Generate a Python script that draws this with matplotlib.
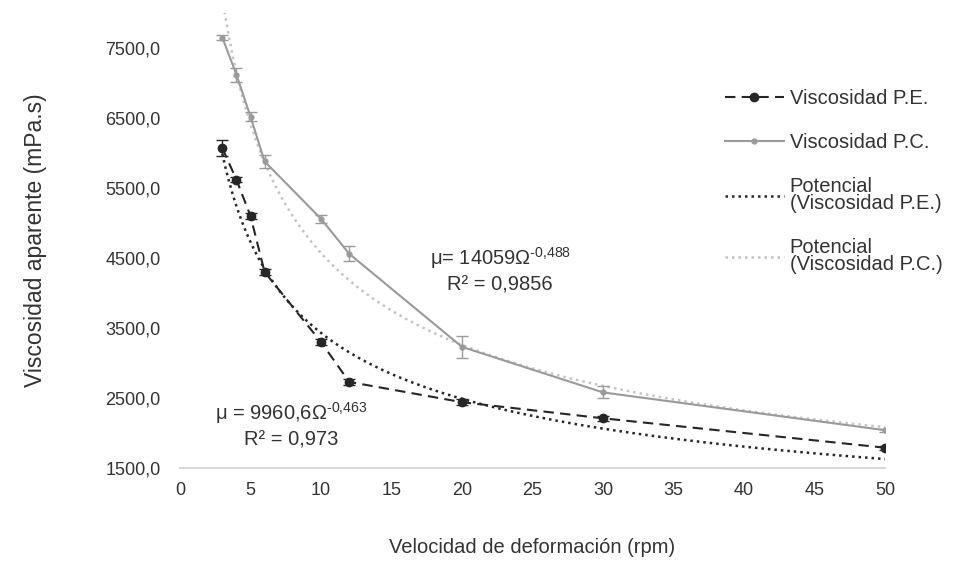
import numpy as np
import matplotlib
matplotlib.use("Agg")
import matplotlib.pyplot as plt
from matplotlib.ticker import FuncFormatter

plt.rcParams['font.family'] = ['Liberation Sans', 'DejaVu Sans']
plt.rcParams['mathtext.fontset'] = 'custom'
plt.rcParams['mathtext.rm'] = 'Liberation Sans'
plt.rcParams['mathtext.it'] = 'Liberation Sans'

# ---- data ----
rpm = [3, 4, 5, 6, 10, 12, 20, 30, 50]
visc_pe = [6070, 5620, 5100, 4300, 3300, 2730, 2440, 2210, 1790]
err_pe = [110, 40, 40, 40, 40, 40, 40, 40, 30]
visc_pc = [7650, 7120, 6520, 5880, 5060, 4560, 3230, 2580, 2040]
err_pc = [40, 100, 70, 90, 60, 105, 157, 85, 20]
fit_pe = [9960.6, -0.463]   # mu = a * rpm^b
fit_pc = [14059.0, -0.488]
y_ticks = [1500, 2500, 3500, 4500, 5500, 6500, 7500]
x_ticks = [0, 5, 10, 15, 20, 25, 30, 35, 40, 45, 50]

fig = plt.figure(figsize=(9.59, 5.64), dpi=100)
ax = fig.add_axes([180/959, 1-468/564, (885-180)/959, (468-13)/564])

xs = np.linspace(min(rpm), max(rpm), 400)

c_pe = '#262626'
c_pc = '#9a9a9a'
c_pcfit = '#c4c4c4'
txt = '#333333'

ax.errorbar(rpm, visc_pe, yerr=err_pe, color=c_pe, ls='none', capsize=4, elinewidth=1, zorder=4)
ax.errorbar(rpm, visc_pc, yerr=err_pc, color=c_pc, ls='none', capsize=4, elinewidth=1, zorder=3)
l1, = ax.plot(rpm, visc_pe, color=c_pe, ls=(0, (5, 3)), lw=1.5, marker='o', ms=6,
              label='Viscosidad P.E.', zorder=4)
l2, = ax.plot(rpm, visc_pc, color=c_pc, ls='-', lw=1.5, marker='o', ms=3.5,
              label='Viscosidad P.C.', zorder=3)
l3, = ax.plot(xs, fit_pe[0]*xs**fit_pe[1], color=c_pe, ls=(0, (1, 1.6)), lw=1.8,
              label='Potencial\n(Viscosidad P.E.)', zorder=2)
l4, = ax.plot(xs, fit_pc[0]*xs**fit_pc[1], color=c_pcfit, ls=(0, (1, 1.6)), lw=1.8,
              label='Potencial\n(Viscosidad P.C.)', zorder=2)

ax.set_xlim(0, 50)
ax.set_ylim(1500, 8000)
ax.set_xticks(x_ticks)
ax.set_yticks(y_ticks)
ax.yaxis.set_major_formatter(FuncFormatter(lambda v, p: f"{v:.1f}".replace('.', ',')))
ax.tick_params(axis='both', length=0, labelsize=13, colors=txt)
ax.tick_params(axis='y', pad=14)
ax.tick_params(axis='x', pad=10)
for s in ['top', 'right', 'left']:
    ax.spines[s].set_visible(False)
ax.spines['bottom'].set_color('#d9d9d9')
ax.spines['bottom'].set_linewidth(1.5)

ax.set_xlabel('Velocidad de deformación (rpm)', fontsize=14.5, color=txt, labelpad=28)
ax.set_ylabel('Viscosidad aparente (mPa.s)', fontsize=16.5, color=txt, labelpad=42)

ax.text(7.87, 2114, 'μ = 9960,6Ω$^{\\text{-0,463}}$\nR² = 0,973', ha='center', va='center',
        fontsize=14.5, color=txt, linespacing=1.3)
ax.text(22.7, 4329, 'μ= 14059Ω$^{\\text{-0,488}}$\nR² = 0,9856', ha='center', va='center',
        fontsize=14.5, color=txt, linespacing=1.3)

leg = fig.legend([l1, l2, l3, l4], [l1.get_label(), l2.get_label(), l3.get_label(), l4.get_label()],
                 loc='upper left', bbox_to_anchor=(707/959, 1-71/564),
                 frameon=False, fontsize=14.5, handlelength=2.9, handletextpad=0.3,
                 labelspacing=1.25)
for t in leg.get_texts():
    t.set_color(txt)
    t.set_linespacing(0.85)

fig.savefig('out.png', dpi=100)
